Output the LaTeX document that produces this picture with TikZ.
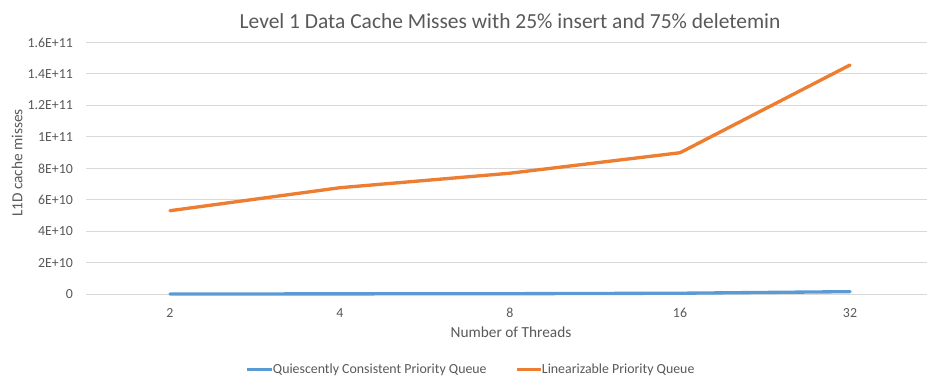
\documentclass[tikz,border=0pt]{standalone}
\usepackage{fontspec}
\setmainfont{Carlito}
\definecolor{gristexte}{HTML}{595959}
\definecolor{grisgrille}{HTML}{D9D9D9}
\definecolor{bleuserie}{HTML}{5B9BD5}
\definecolor{orangeserie}{HTML}{ED7D31}
\tikzset{
	etiquette/.style={text=gristexte, font=\fontsize{10.4}{12}\selectfont, inner sep=1pt},
	serie/.style={line width=2.5pt, line join=round, line cap=round},
}
\begin{document}
\begin{tikzpicture}[x=0.75pt, y=0.75pt]
	% Cadre de la figure
	\useasboundingbox (0,0) rectangle (927,377);
	
	% Titre
	\node[text=gristexte, font=\fontsize{16.1}{19}\selectfont] (titre) at (510,356) {Level 1 Data Cache Misses with 25\% insert and 75\% deletemin};
	
	% Grille de fond et graduations verticales
	\begin{scope}[shift={(0,82.5)}, y=11.8125pt]
		\foreach \v/\lab in {0/0, 2/2E+10, 4/4E+10, 6/6E+10, 8/8E+10, 10/1E+11, 12/1.2E+11, 14/1.4E+11, 16/1.6E+11}
		{
			\draw[grisgrille, line width=0.75pt] (86,\v) -- (927,\v);
			\node[etiquette, anchor=east] (gy\v) at (74.5,\v) {\lab};
		}
		
		% Points des deux series
		\foreach \n/\x/\b/\o in {2/170/0.03/5.32, 4/340/0.04/6.78, 8/510/0.05/7.70, 16/680/0.08/9.00, 32/850/0.18/14.57}
		{
			\coordinate (b\n) at (\x,\b);
			\coordinate (o\n) at (\x,\o);
		}
		
		% Courbes
		\draw[serie, bleuserie] (b2) -- (b4) -- (b8) -- (b16) -- (b32);
		\draw[serie, orangeserie] (o2) -- (o4) -- (o8) -- (o16) -- (o32);
	\end{scope}
	
	% Graduations horizontales
	\foreach \n/\x in {2/170, 4/340, 8/510, 16/680, 32/850}
		\node[etiquette] (gx\n) at (\x,64.3) {\n};
	
	% Titres des axes
	\node[text=gristexte, font=\fontsize{11.5}{13}\selectfont] (titrex) at (511,45) {Number of Threads};
	\node[text=gristexte, font=\fontsize{11.5}{13}\selectfont, rotate=90] (titrey) at (17,214) {L1D cache misses};
	
	% Legende
	\coordinate (lb1) at (247,7.3);
	\coordinate (lb2) at (272,7.3);
	\draw[serie, bleuserie, line cap=butt] (lb1) -- (lb2);
	\node[etiquette, anchor=west, inner sep=0.5pt] (legb) at (lb2) {Quiescently Consistent Priority Queue};
	\coordinate (lo1) at (517,7.3);
	\coordinate (lo2) at (541,7.3);
	\draw[serie, orangeserie, line cap=butt] (lo1) -- (lo2);
	\node[etiquette, anchor=west, inner sep=0.5pt] (lego) at (lo2) {Linearizable Priority Queue};
\end{tikzpicture}
\end{document}
